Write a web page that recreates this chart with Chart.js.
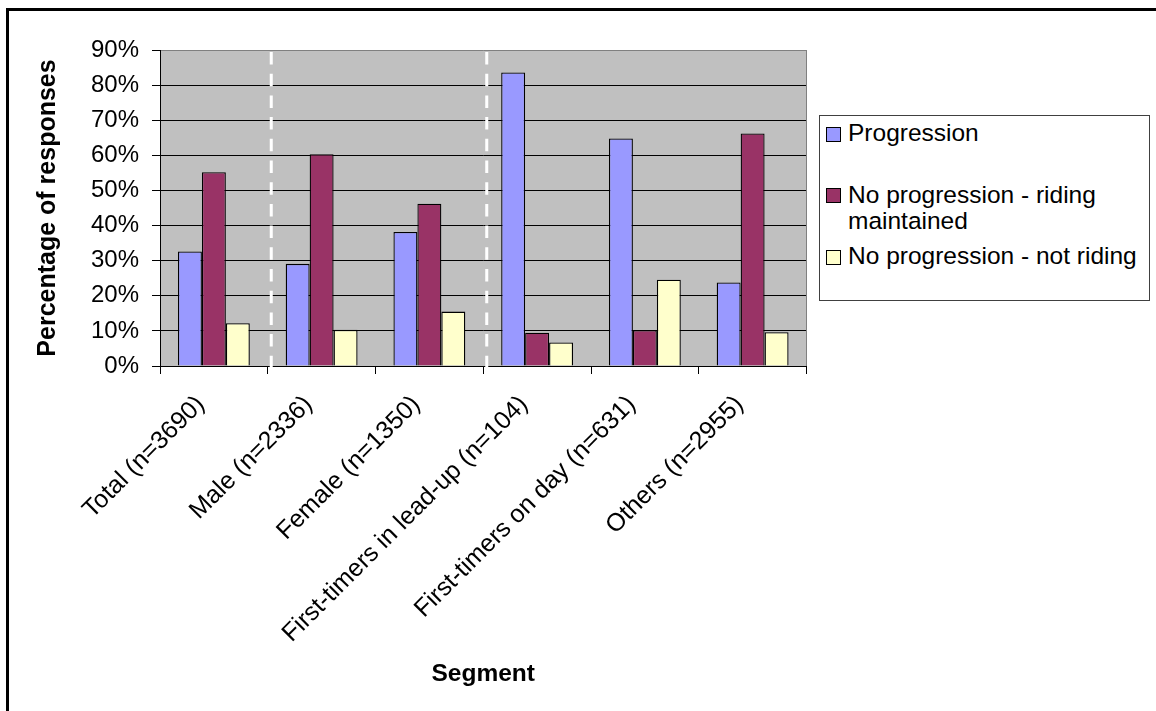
<!DOCTYPE html>
<html>
<head>
<meta charset="utf-8">
<script src="https://cdn.jsdelivr.net/npm/chart.js@4.4.1/dist/chart.umd.min.js"></script>
<style>
  html, body { margin: 0; padding: 0; background: #fff; overflow: hidden; width: 1156px; height: 711px; }
  #frame { position: absolute; left: 6px; top: 8px; width: 3000px; height: 3000px; border: 3px solid #000; box-sizing: border-box; }
  #c { position: absolute; left: 0; top: 0; }
  #legend { position: absolute; left: 819px; top: 115px; width: 331px; height: 186px; box-sizing: border-box;
            border: 1px solid #404040; background: #fff;
            font-family: "Liberation Sans", Arial, sans-serif; font-size: 24.5px; color: #000; }
  .item { position: absolute; left: 0; width: 100%; }
  .sw { position: absolute; left: 6px; top: 6.8px; width: 15px; height: 15px; box-sizing: border-box; border: 1px solid #000; }
  .tx { position: absolute; left: 28px; top: 0; width: 300px; line-height: 26.7px; white-space: normal; }
</style>
</head>
<body>
<div id="frame"></div>
<canvas id="c" width="1156" height="711"></canvas>
<div id="legend"></div>
<script>
// Survey segments and response shares (%)
const categories = [
  'Total (n=3690)',
  'Male (n=2336)',
  'Female (n=1350)',
  'First-timers in lead-up (n=104)',
  'First-timers on day (n=631)',
  'Others (n=2955)'
];
const seriesNames = ['Progression', 'No progression - riding maintained', 'No progression - not riding'];
const progression      = [32.6, 29.1, 38.2, 83.6, 64.8, 23.8];
const ridingMaintained = [55.2, 60.3, 46.2,  9.5, 10.2, 66.2];
const notRiding        = [12.2, 10.3, 15.5,  6.7, 24.6,  9.6];
const yTicks = [0, 10, 20, 30, 40, 50, 60, 70, 80, 90];
// group separators sit after these category indices
const separatorsAfter = [0, 2];

const colors = ['#9999FF', '#993366', '#FFFFCC'];
const FONT = '"Liberation Sans", Arial, sans-serif';
Chart.defaults.font.family = FONT;
Chart.defaults.color = '#000';

// grey plot area with a grey frame on the right
const plotBg = {
  id: 'plotBg',
  beforeDraw(chart) {
    const { ctx, chartArea: a } = chart;
    ctx.save();
    ctx.fillStyle = '#C0C0C0';
    ctx.fillRect(a.left, a.top, a.right - a.left, a.bottom - a.top);
    ctx.restore();
  },
  afterDraw(chart) {
    const { ctx, chartArea: a } = chart;
    ctx.save();
    ctx.strokeStyle = '#808080';
    ctx.lineWidth = 1;
    ctx.beginPath();
    ctx.moveTo(Math.round(a.right) - 0.5, a.top);
    ctx.lineTo(Math.round(a.right) - 0.5, a.bottom);
    ctx.stroke();
    ctx.restore();
  }
};

// white dashed lines dividing segment groups
const separators = {
  id: 'separators',
  afterDraw(chart) {
    const { ctx, chartArea: a } = chart;
    const xs = chart.scales.x;
    ctx.save();
    ctx.strokeStyle = '#FFFFFF';
    ctx.lineWidth = 3;
    ctx.setLineDash([12.5, 9.2]);
    separatorsAfter.forEach(i => {
      const x = (xs.getPixelForValue(i) + xs.getPixelForValue(i + 1)) / 2 + 3.5;
      ctx.beginPath();
      ctx.moveTo(x, a.top + 2);
      ctx.lineTo(x, a.bottom + 7);
      ctx.stroke();
    });
    ctx.restore();
  }
};

const seriesData = [progression, ridingMaintained, notRiding];

const chart = new Chart(document.getElementById('c'), {
  type: 'bar',
  data: {
    labels: categories,
    datasets: seriesData.map((d, i) => ({
      label: seriesNames[i],
      data: d,
      backgroundColor: colors[i],
      borderColor: '#000',
      borderWidth: 1.3
    }))
  },
  options: {
    responsive: false,
    animation: false,
    devicePixelRatio: 1,
    layout: { padding: { left: 33.5, top: 50, right: 349.5, bottom: 22.3 } },
    datasets: { bar: { categoryPercentage: 0.667, barPercentage: 1 } },
    plugins: { legend: { display: false }, tooltip: { enabled: false } },
    scales: {
      x: {
        grid: { offset: true, drawOnChartArea: false, color: '#000', tickColor: '#000', tickLength: 8 },
        border: { color: '#000', width: 1 },
        ticks: { color: '#000', font: { size: 25 }, minRotation: 45, maxRotation: 45, autoSkip: false,
                 padding: 16, labelOffset: -13 },
        title: { display: true, text: 'Segment', color: '#000', font: { size: 24.5, weight: 'bold' }, padding: 0 },
        afterFit(s) { s.height = 322.7; }
      },
      y: {
        min: 0, max: 90,
        afterBuildTicks(s) { s.ticks = yTicks.map(v => ({ value: v })); },
        ticks: { color: '#000', font: { size: 24 }, padding: 13, callback: v => v + '%' },
        grid: { color: c => (c.tick && c.tick.value === 90) ? '#808080' : '#000', tickColor: '#000', tickLength: 8 },
        border: { color: '#000', width: 1 },
        title: { display: true, text: 'Percentage of responses', color: '#000', font: { size: 25, weight: 'bold' }, padding: 0 },
        afterFit(s) { s.width = 126.5; }
      }
    }
  },
  plugins: [plotBg, separators]
});

// legend box built from the datasets
const legendTops = [3.9, 65.5, 127.2];
const legend = document.getElementById('legend');
chart.data.datasets.forEach((ds, i) => {
  const item = document.createElement('div');
  item.className = 'item';
  item.style.top = legendTops[i] + 'px';
  const sw = document.createElement('div');
  sw.className = 'sw';
  sw.style.background = ds.backgroundColor;
  const tx = document.createElement('div');
  tx.className = 'tx';
  tx.textContent = ds.label;
  item.appendChild(sw);
  item.appendChild(tx);
  legend.appendChild(item);
});
</script>
</body>
</html>
